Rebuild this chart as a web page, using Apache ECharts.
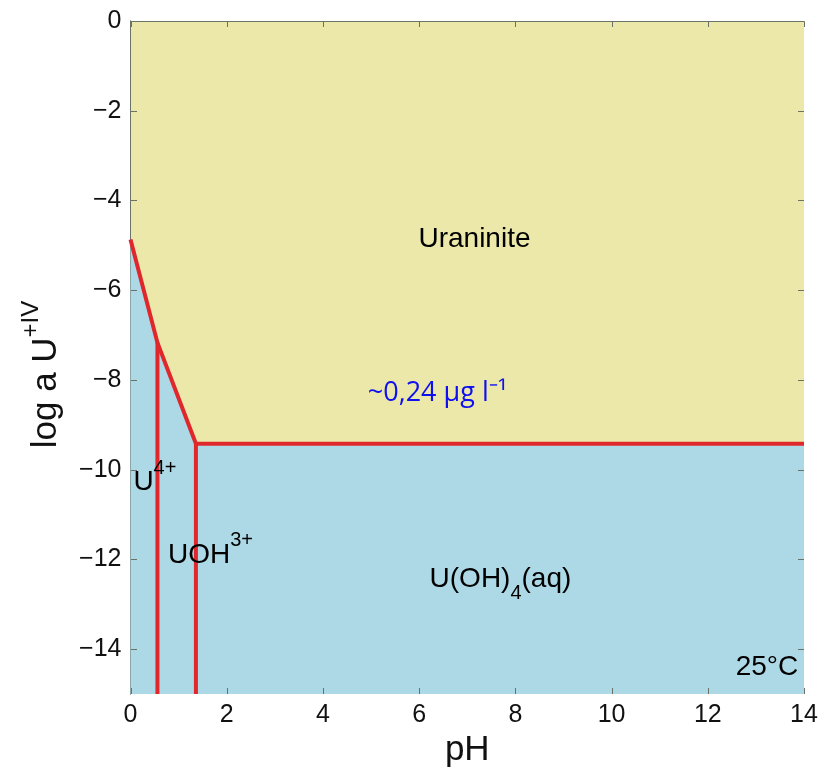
<!DOCTYPE html>
<html><head><meta charset="utf-8">
<script src="https://cdn.jsdelivr.net/npm/echarts@6/dist/echarts.min.js"></script>
<style>html,body{margin:0;padding:0;background:#fff}#c{width:818px;height:770px}</style>
</head><body><div id="c"></div>
<script>
// Data
var boundaryPH   = [0, 0.56, 1.36, 14];
var boundaryLogA = [-4.87, -7.17, -9.42, -9.42];
var dividerPH    = [0.56, 1.36];   // vertical boundaries U4+/UOH3+ and UOH3+/U(OH)4
var dividerTop   = [-7.17, -9.42];
var xTicks = [0, 2, 4, 6, 8, 10, 12, 14];
var yTicks = [0, -2, -4, -6, -8, -10, -12, -14];
var labelNames = ['Uraninite', 'conc', 'U4', 'UOH3', 'UOH4', 'temp'];
var labelPH    = [7.15, 6.38, 0.06, 0.78, 7.69, 13.88];
var labelLogA  = [-4.87, -8.3, -10.29, -11.9, -12.45, -14.4];

var YMIN = -15, YMAX = 0, XMIN = 0, XMAX = 14;
var font = 'Liberation Sans, Arial, sans-serif';
var axisColor = '#6b7268';
function minus(v){ return v < 0 ? '\u2212' + (-v) : String(v); }

var boundary = boundaryPH.map(function(p,i){ return [p, boundaryLogA[i]]; });
var series = [
  { type:'line', data: boundary, symbol:'none', silent:true, z:2,
    lineStyle:{ width:0 }, areaStyle:{ origin:'start', color:'#ADD8E6', opacity:1 } },
  { type:'line', data: boundary, symbol:'none', silent:true, z:5,
    lineStyle:{ width:4, color:'#E0282C', join:'miter' } }
];
dividerPH.forEach(function(p,i){
  series.push({ type:'line', data:[[p, dividerTop[i]],[p, YMIN]], symbol:'none', silent:true, z:5,
    lineStyle:{ width:4, color:'#E0282C' } });
});

var labelStyles = {
  Uraninite: { formatter:'Uraninite', fontSize:28, color:'#000', align:'center' },
  conc: { formatter:'~0,24 \u03bcg l\u207b\u00b9', fontSize:27, color:'#0F0FF0', align:'center', fontFamily:'Open Sans, sans-serif' },
  U4: { formatter:'{m|U}{s|4+}', align:'left' },
  UOH3: { formatter:'{m|UOH}{s|3+}', align:'left' },
  UOH4: { formatter:'{m|U(OH)}{b|4}{m|(aq)}', align:'center' },
  temp: { formatter:'25\u00b0C', fontSize:28, color:'#000', align:'right' }
};
var rich = {
  m: { fontSize:28, lineHeight:48, color:'#000', fontFamily:font, verticalAlign:'middle' },
  s: { fontSize:20, lineHeight:20, color:'#000', fontFamily:font, verticalAlign:'top' },
  b: { fontSize:20, lineHeight:18, color:'#000', fontFamily:font, verticalAlign:'bottom' }
};
labelNames.forEach(function(n,i){
  var st = labelStyles[n];
  series.push({ type:'scatter', symbolSize:0, silent:true, z:10,
    itemStyle:{ opacity:1 },
    data:[[labelPH[i], labelLogA[i]]],
    label:{ show:true, position:'inside', formatter: st.formatter, fontSize: st.fontSize||28,
      color: st.color||'#000', fontFamily: st.fontFamily||font, align: st.align, opacity:1,
      verticalAlign:'middle', textBorderWidth:0, rich: rich } });
});

var axisLine = { show:true, lineStyle:{ color:axisColor, width:1 } };

var option = {
  backgroundColor:'#fff',
  animation:false,
  grid:{ left:130.5, right:14, top:21, bottom:76, show:true, backgroundColor:'#EBE8AA', borderWidth:0,
         containLabel:false, outerBoundsMode:'none' },
  xAxis:[
    { type:'value', min:XMIN, max:XMAX, interval:2, position:'bottom',
      axisLine:axisLine, axisTick:{show:false}, splitLine:{show:false},
      axisLabel:{ fontSize:25, color:'#111', fontFamily:font, margin:9, formatter:minus },
      name:'pH', nameLocation:'middle', nameGap:36,
      nameTextStyle:{ fontSize:35, color:'#111', fontFamily:font } },
    { type:'value', min:XMIN, max:XMAX, interval:2, position:'top',
      axisLine:axisLine, axisTick:{show:false}, axisLabel:{show:false}, splitLine:{show:false} }
  ],
  yAxis:[
    { type:'value', min:YMIN, max:YMAX, interval:1, position:'left',
      axisLine:axisLine, axisTick:{show:false}, splitLine:{show:false},
      axisLabel:{ fontSize:25, color:'#111', fontFamily:font, margin:9, customValues: yTicks, formatter:minus },
      name:'{n|log a U}{p|+IV}', nameLocation:'middle', nameGap:57, nameRotate:90,
      nameTextStyle:{ fontSize:35, color:'#111', fontFamily:font, padding:[0,34,0,0],
        rich:{ n:{ fontSize:35, lineHeight:54, color:'#111', fontFamily:font, verticalAlign:'middle' },
               p:{ fontSize:24, lineHeight:24, color:'#111', fontFamily:font, verticalAlign:'top' } } } },
    { type:'value', min:YMIN, max:YMAX, interval:1, position:'right',
      axisLine:axisLine, axisTick:{show:false}, axisLabel:{show:false}, splitLine:{show:false} }
  ],
  series: series
};
var chart = echarts.init(document.getElementById('c'), null, { renderer:'canvas' });
chart.setOption(option);

// inward tick marks on all four sides, placed through the axis scales
var L = 6, ticks = [];
function seg(x1, y1, x2, y2){
  ticks.push({ type:'line', silent:true, z:100,
    shape:{ x1:x1, y1:y1, x2:x2, y2:y2 }, style:{ stroke:axisColor, lineWidth:1 } });
}
xTicks.forEach(function(v){
  var b = chart.convertToPixel({ gridIndex:0 }, [v, YMIN]);
  var t = chart.convertToPixel({ gridIndex:0 }, [v, YMAX]);
  var x = Math.round(b[0]) + 0.5;
  seg(x, b[1], x, b[1] - L);
  seg(x, t[1] + L, x, t[1] + 0.5);
});
yTicks.forEach(function(v){
  var l = chart.convertToPixel({ gridIndex:0 }, [XMIN, v]);
  var r = chart.convertToPixel({ gridIndex:0 }, [XMAX, v]);
  var y = Math.round(l[1]) + 0.5;
  seg(Math.round(l[0]) + L, y, Math.round(l[0]), y);
  seg(r[0], y, r[0] - L, y);
});
chart.setOption({ graphic: ticks });
</script>
</body></html>
